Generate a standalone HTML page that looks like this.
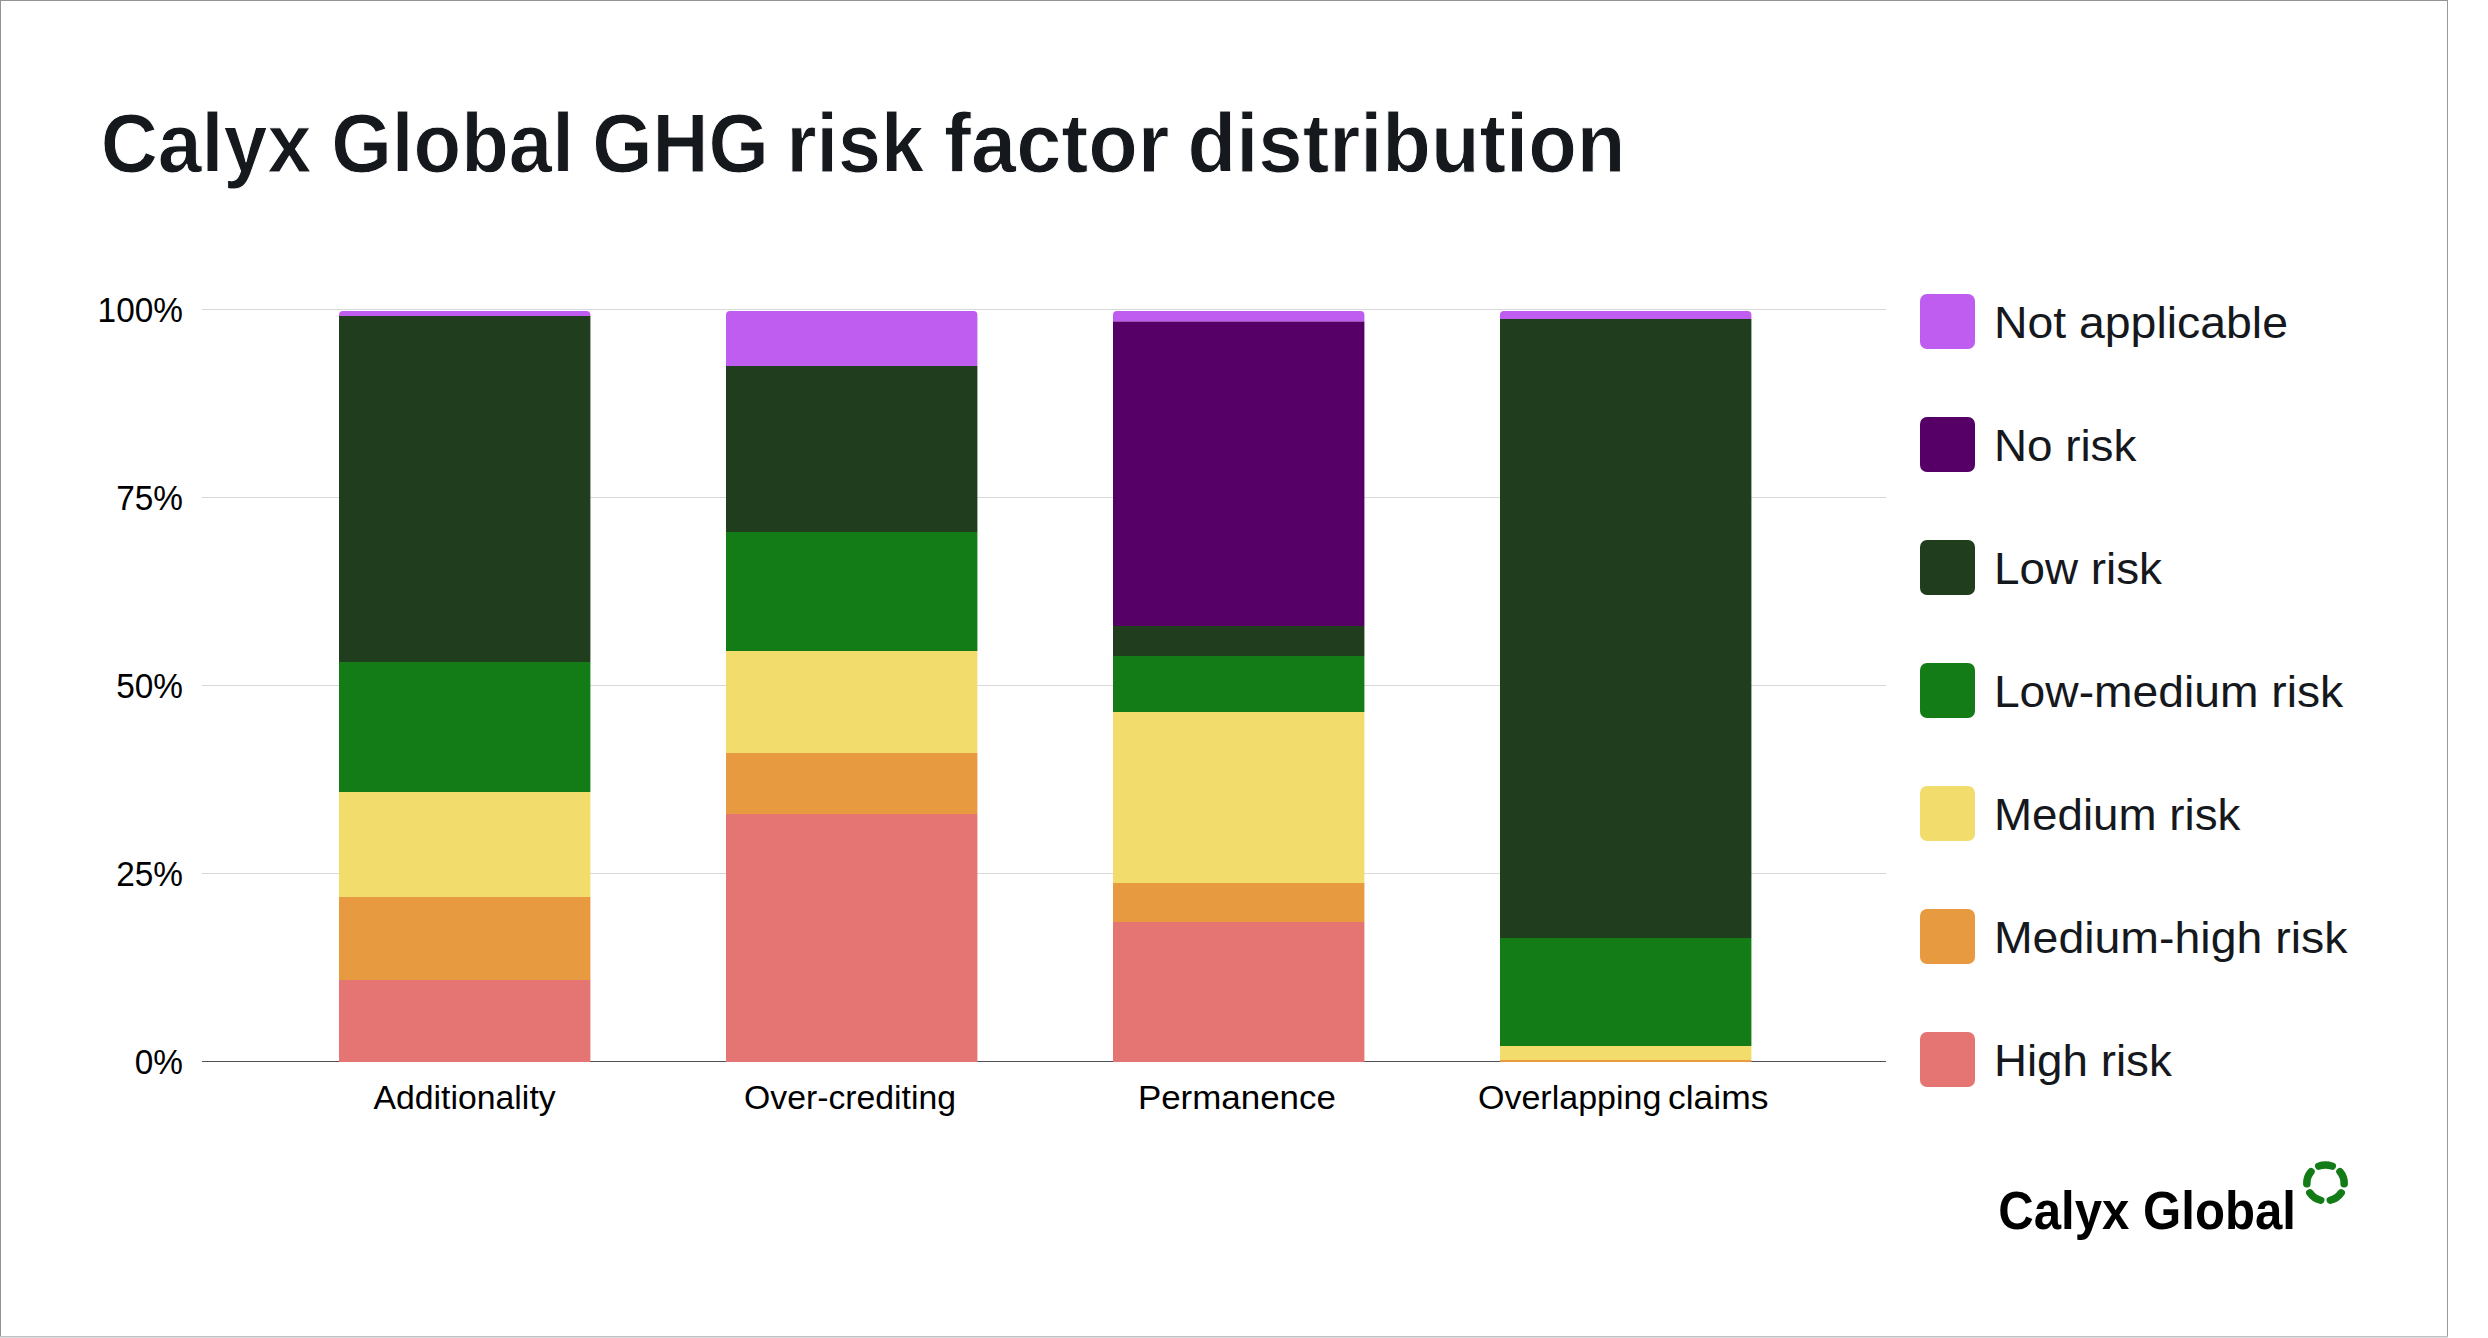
<!DOCTYPE html>
<html lang="en"><head><meta charset="utf-8"><title>Calyx Global GHG risk factor distribution</title>
<style>html,body{margin:0;padding:0;background:#fff}body{width:2488px;height:1338px;overflow:hidden}svg{display:block}text{font-family:"Liberation Sans",Arial,sans-serif}.t{font-weight:700;font-size:82.6px;fill:#15181c;stroke:#fff;stroke-width:1px;stroke-linejoin:round}.ax{font-size:33.6px;fill:#000}.ay{font-size:35.6px;fill:#000}.lg{font-size:45px;fill:#15181c}.logo{font-weight:700;font-size:54px;fill:#000}</style></head><body>
<svg width="2488" height="1338" viewBox="0 0 2488 1338">
<rect width="2488" height="1338" fill="#fff"/>
<rect x="0" y="0" width="2448" height="1" fill="#929498"/>
<rect x="0" y="0" width="1" height="1337" fill="#929498"/>
<rect x="2447" y="0" width="1" height="1337" fill="#97999d"/>
<rect x="0" y="1336" width="2448" height="1" fill="#c0c2c3"/>
<rect x="0" y="1337" width="2448" height="1" fill="#d9dbdd"/>
<rect x="202" y="309" width="1684" height="1" fill="#d9d9d9"/>
<rect x="202" y="497" width="1684" height="1" fill="#d9d9d9"/>
<rect x="202" y="685" width="1684" height="1" fill="#d9d9d9"/>
<rect x="202" y="873" width="1684" height="1" fill="#d9d9d9"/>
<rect x="202" y="1061" width="1684" height="1" fill="#505056"/>
<path d="M339 316 V315 A4 4 0 0 1 343 311 H586.4 A4 4 0 0 1 590.4 315 V316 Z" fill="#bf5df0"/>
<rect x="339" y="316" width="251.4" height="346" fill="#203d1e"/>
<rect x="339" y="662" width="251.4" height="130" fill="#137c17"/>
<rect x="339" y="792" width="251.4" height="105" fill="#f2dc6c"/>
<rect x="339" y="897" width="251.4" height="83" fill="#e89a40"/>
<rect x="339" y="980" width="251.4" height="82" fill="#e47572"/>
<path d="M726 366 V315 A4 4 0 0 1 730 311 H973.4 A4 4 0 0 1 977.4 315 V366 Z" fill="#bf5df0"/>
<rect x="726" y="366" width="251.4" height="166" fill="#203d1e"/>
<rect x="726" y="532" width="251.4" height="119" fill="#137c17"/>
<rect x="726" y="651" width="251.4" height="102" fill="#f2dc6c"/>
<rect x="726" y="753" width="251.4" height="61" fill="#e89a40"/>
<rect x="726" y="814" width="251.4" height="248" fill="#e47572"/>
<path d="M1113 321.5 V315 A4 4 0 0 1 1117 311 H1360.4 A4 4 0 0 1 1364.4 315 V321.5 Z" fill="#bf5df0"/>
<rect x="1113" y="321.5" width="251.4" height="304.5" fill="#560067"/>
<rect x="1113" y="626" width="251.4" height="30" fill="#203d1e"/>
<rect x="1113" y="656" width="251.4" height="56" fill="#137c17"/>
<rect x="1113" y="712" width="251.4" height="171" fill="#f2dc6c"/>
<rect x="1113" y="883" width="251.4" height="39" fill="#e89a40"/>
<rect x="1113" y="922" width="251.4" height="140" fill="#e47572"/>
<path d="M1500 319 V315 A4 4 0 0 1 1504 311 H1747.4 A4 4 0 0 1 1751.4 315 V319 Z" fill="#bf5df0"/>
<rect x="1500" y="319" width="251.4" height="619" fill="#203d1e"/>
<rect x="1500" y="938" width="251.4" height="108" fill="#137c17"/>
<rect x="1500" y="1046" width="251.4" height="14" fill="#f2dc6c"/>
<rect x="1500" y="1060" width="251.4" height="2" fill="#e89a40"/>
<rect x="1920" y="294" width="55" height="55" rx="7" ry="7" fill="#bf5df0"/>
<rect x="1920" y="417" width="55" height="55" rx="7" ry="7" fill="#560067"/>
<rect x="1920" y="540" width="55" height="55" rx="7" ry="7" fill="#203d1e"/>
<rect x="1920" y="663" width="55" height="55" rx="7" ry="7" fill="#137c17"/>
<rect x="1920" y="786" width="55" height="55" rx="7" ry="7" fill="#f2dc6c"/>
<rect x="1920" y="909" width="55" height="55" rx="7" ry="7" fill="#e89a40"/>
<rect x="1920" y="1032" width="55" height="55" rx="7" ry="7" fill="#e47572"/>
<text class="t" transform="translate(100.67 171.70) scale(0.9561 1)">Calyx</text>
<text class="t" transform="translate(331.21 171.70) scale(0.9441 1)">Global</text>
<text class="t" transform="translate(592.25 171.70) scale(0.9385 1)">GHG</text>
<text class="t" transform="translate(786.39 171.70) scale(0.9357 1)">risk</text>
<text class="t" transform="translate(944.04 171.70) scale(0.9823 1)">factor</text>
<text class="t" transform="translate(1187.62 171.70) scale(0.9640 1)">distribution</text>
<text class="ax" transform="translate(373.50 1109.40) scale(1.0056 1)">Additionality</text>
<text class="ax" transform="translate(743.99 1109.40) scale(1.0048 1)">Over-crediting</text>
<text class="ax" transform="translate(1137.89 1109.40) scale(1.0398 1)">Permanence</text>
<text class="ax" transform="translate(1477.98 1109.40) scale(1.0125 1)">Overlapping</text>
<text class="ax" transform="translate(1667.92 1109.40) scale(1.0560 1)">claims</text>
<text class="lg" transform="translate(1993.89 337.50) scale(1.0314 1)">Not applicable</text>
<text class="lg" transform="translate(1993.94 460.50) scale(1.0177 1)">No risk</text>
<text class="lg" transform="translate(1993.93 583.50) scale(1.0187 1)">Low risk</text>
<text class="lg" transform="translate(1993.91 706.50) scale(1.0274 1)">Low-medium risk</text>
<text class="lg" transform="translate(1993.94 829.50) scale(1.0167 1)">Medium risk</text>
<text class="lg" transform="translate(1993.89 952.50) scale(1.0319 1)">Medium-high risk</text>
<text class="lg" transform="translate(1993.94 1075.50) scale(1.0164 1)">High risk</text>
<text class="logo" transform="translate(1998.21 1228.80) scale(0.9103 1)">Calyx Global</text>
<text class="ay" text-anchor="end" transform="translate(183.00 321.70) scale(0.9382 1)">100%</text>
<text class="ay" text-anchor="end" transform="translate(183.00 509.70) scale(0.9382 1)">75%</text>
<text class="ay" text-anchor="end" transform="translate(183.00 697.70) scale(0.9382 1)">50%</text>
<text class="ay" text-anchor="end" transform="translate(183.00 885.70) scale(0.9382 1)">25%</text>
<text class="ay" text-anchor="end" transform="translate(183.00 1073.70) scale(0.9382 1)">0%</text>
<g transform="translate(2325.5 1182.98) scale(1 0.96)">
<path d="M-6.70 -17.46 A18.70 18.70 0 0 1 6.70 -17.46" fill="none" stroke="#137c17" stroke-width="7.6" stroke-linecap="round"/>
<path d="M14.53 -11.77 A18.70 18.70 0 0 1 18.67 0.98" fill="none" stroke="#137c17" stroke-width="7.6" stroke-linecap="round"/>
<path d="M15.68 10.18 A18.70 18.70 0 0 1 4.84 18.06" fill="none" stroke="#137c17" stroke-width="7.6" stroke-linecap="round"/>
<path d="M-4.84 18.06 A18.70 18.70 0 0 1 -15.68 10.18" fill="none" stroke="#137c17" stroke-width="7.6" stroke-linecap="round"/>
<path d="M-18.67 0.98 A18.70 18.70 0 0 1 -14.53 -11.77" fill="none" stroke="#137c17" stroke-width="7.6" stroke-linecap="round"/>
</g>
</svg></body></html>
